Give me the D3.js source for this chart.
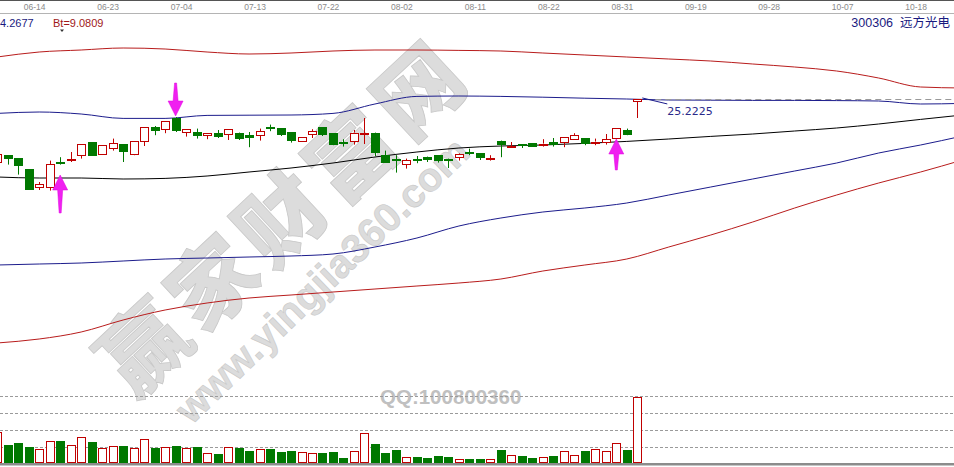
<!DOCTYPE html>
<html><head><meta charset="utf-8">
<script src="https://cdn.jsdelivr.net/npm/d3@7"></script>
<style>html,body{margin:0;padding:0;background:#fff;overflow:hidden}</style>
</head><body><svg id="c" width="954" height="467"></svg>
<script>
// ---- data ----
const dateLabels = ["06-14","06-23","07-04","07-13","07-22","08-02","08-11","08-22","08-31","09-19","09-28","10-07","10-18"];
const dateIdx = [3,10,17,24,31,38,45,52,59,66,73,80,87];

const opens  = [22.07,22.41,22.26,21.71,20.84,20.80,22.07,22.18,22.44,23.07,22.44,22.77,22.97,22.47,23.11,23.81,23.71,24.27,23.54,23.57,23.44,23.54,23.44,23.54,23.41,23.41,23.84,23.77,23.57,23.14,23.44,23.82,23.51,23.07,23.14,23.47,23.54,22.44,22.24,21.97,22.24,22.34,22.41,22.24,22.34,22.56,22.51,22.22,23.14,22.82,22.96,23.01,22.96,23.07,23.04,23.21,23.27,23.06,23.07,23.27,23.67,25.10];
const highs  = [22.50,22.41,22.26,21.71,21.07,22.14,22.31,22.57,22.97,23.07,22.91,23.24,22.97,23.14,23.81,23.87,24.11,24.31,23.71,23.74,23.54,23.67,23.71,23.54,23.57,23.74,23.94,23.77,23.57,23.34,23.71,23.82,23.51,23.21,23.67,24.27,23.54,22.64,22.41,22.24,22.37,22.34,22.41,22.24,22.50,22.74,22.51,22.41,23.14,23.07,22.96,23.01,23.21,23.27,23.31,23.51,23.27,23.24,23.47,23.77,23.74,25.2225];
const lows   = [22.00,21.94,21.44,20.70,20.67,20.64,21.94,22.07,22.24,22.44,22.44,22.64,22.07,22.41,22.87,23.41,23.51,23.57,23.34,23.24,23.21,23.27,23.17,23.17,22.81,23.14,23.61,23.37,23.04,23.14,23.27,23.37,22.91,22.84,22.94,22.97,22.37,22.05,21.54,21.74,22.01,22.07,22.04,21.77,22.14,22.41,22.17,22.14,22.31,22.77,22.77,22.87,22.84,22.84,22.81,23.21,22.91,22.91,22.94,23.27,23.41,24.27];
const closes = [22.47,22.24,21.89,20.71,20.97,21.97,22.02,22.22,22.97,22.44,22.91,23.01,22.61,23.14,23.81,23.64,24.11,23.67,23.71,23.41,23.54,23.41,23.71,23.31,23.31,23.61,23.77,23.47,23.17,23.34,23.61,23.47,22.97,23.01,23.54,23.52,22.57,22.07,22.17,22.17,22.17,22.24,22.17,22.17,22.47,22.52,22.31,22.25,23.01,22.86,22.92,22.87,22.99,22.97,23.31,23.41,23.04,23.09,23.21,23.77,23.47,25.2225];
const volumes = [31.3,18.3,20.3,16.3,14.3,21.7,22.3,17.7,25.7,21,15,17,17,15,23.7,15,15.7,17,15,15.7,9.7,9,15.7,15,12.3,13.7,14.3,11,12.3,11,9.7,10,11,5,11.7,29.7,19,10.3,13,5.7,5.7,5,7,5.7,4.3,3.7,3.7,4.3,13,8.3,7,5,5.7,7,11.7,8.3,11.7,13.7,11.7,19.7,13,65.7];
const volTicks = [16,33,50,67];

const bandIdx   = [0,4,8,12,16,20,24,28,32,36,40,44,48,52,56,60,64,68,72,76,80,84,88,92];
const upperRed  = [27.32,27.57,27.67,27.77,27.72,27.57,27.47,27.52,27.62,27.67,27.67,27.65,27.62,27.52,27.42,27.32,27.22,27.12,26.97,26.82,26.62,26.27,25.82,25.77];
const upperBlue = [24.50,24.57,24.47,24.25,24.25,24.40,24.41,24.42,24.50,24.97,25.35,25.37,25.35,25.31,25.26,25.22,25.17,25.16,25.15,25.15,25.14,25.12,24.97,25.00];
const midBlack  = [21.32,21.27,21.27,21.22,21.25,21.37,21.57,21.77,22.02,22.32,22.57,22.77,22.87,22.92,23.00,23.10,23.22,23.35,23.47,23.62,23.77,23.97,24.20,24.42];
const lowerBlue = [16.92,16.97,17.02,17.12,17.22,17.27,17.32,17.37,17.47,17.82,18.27,18.87,19.27,19.57,19.77,20.02,20.42,20.82,21.22,21.62,22.02,22.52,22.92,23.37];
const lowerRed  = [13.02,13.22,13.57,14.17,14.67,15.02,15.27,15.42,15.57,15.72,15.87,16.02,16.22,16.62,16.92,17.22,17.82,18.42,19.07,19.77,20.42,21.02,21.57,22.17];

const arrowIdx   = [6,17,59];
const arrowPrice = [21.42,24.37,23.22];
const arrowDir   = ["up","down","up"];

const infoLeft = "4.2677";
const infoBt = "Bt=9.0809";
const stockName = "300306  远方光电";
const highText = "25.2225";

// ---- scales ----
const W = 954, H = 467;
const svg = d3.select("#c");
const x = d3.scaleLinear().domain([0, 61]).range([-2.8, 637.3]);
const y = d3.scaleLinear().domain([11.17, 30.17]).range([380, 0]);
const yv = d3.scaleLinear().domain([0, 67]).range([463, 396]);

const RED = "#c00000", GREEN = "#007800";

// ---- watermark ----
const wm = svg.append("g").attr("class","wm");
wm.append("text").text("赢家财富网")
  .attr("transform","translate(280,212) rotate(-43)")
  .attr("text-anchor","middle").attr("dominant-baseline","central")
  .attr("font-family","Noto Sans CJK SC").attr("font-weight","900")
  .attr("font-size",86).attr("letter-spacing",8)
  .attr("fill","#dcdcdc").attr("stroke","#c8c8c8").attr("stroke-width",0.8);
wm.append("text").text("www.yingjia360.com")
  .attr("transform","translate(322,280) rotate(-44)")
  .attr("text-anchor","middle").attr("dominant-baseline","central")
  .attr("font-family","Liberation Sans, Arial").attr("font-weight","bold")
  .attr("font-size",40)
  .attr("fill","#dcdcdc").attr("stroke","#c8c8c8").attr("stroke-width",0.6);
wm.append("text").text("QQ:100800360")
  .attr("x",380).attr("y",404)
  .attr("font-family","Liberation Sans, Arial").attr("font-weight","bold")
  .attr("font-size",20.5).attr("fill","#c0c0c0");

// ---- top axis ----
svg.append("line").attr("x1",0).attr("x2",W).attr("y1",0.5).attr("y2",0.5).attr("stroke","#555");
svg.append("line").attr("x1",0).attr("x2",W).attr("y1",13.5).attr("y2",13.5).attr("stroke","#b4b4b4");
svg.append("g").selectAll("text").data(dateLabels).join("text")
  .attr("x",(d,i)=>x(dateIdx[i])+6).attr("y",10)
  .attr("text-anchor","middle")
  .attr("font-family","Liberation Sans, Arial").attr("font-size",8.5)
  .attr("fill","#8a8a8a").text(d=>d);

svg.append("text").attr("x",0).attr("y",27).text(infoLeft)
  .attr("font-family","Liberation Sans, Arial").attr("font-size",11).attr("fill","#1a1a80");
svg.append("text").attr("x",53).attr("y",27).text(infoBt)
  .attr("font-family","Liberation Sans, Arial").attr("font-size",11).attr("fill","#a01818");
svg.append("path").attr("d","M60,29.5 L64,29.5 L62,32 Z").attr("fill","#333");
svg.append("text").attr("x",950).attr("y",27).attr("text-anchor","end").text(stockName)
  .attr("font-family","Liberation Sans, Noto Sans CJK SC").attr("font-size",12.5).attr("fill","#1a1a80")
  .style("white-space","pre").attr("xml:space","preserve");

// ---- volume grid ----
svg.append("g").selectAll("line").data(volTicks).join("line")
  .attr("x1",0).attr("x2",W)
  .attr("y1",d=>Math.round(yv(d))+0.5).attr("y2",d=>Math.round(yv(d))+0.5)
  .attr("stroke","#9a9a9a").attr("stroke-dasharray","3,2");
svg.append("rect").attr("x",0).attr("y",463).attr("width",W).attr("height",2.5).attr("fill","#8c8c8c");

// ---- bands ----
const bandLine = d3.line().x((d,i)=>x(bandIdx[i])).y(d=>y(d)).curve(d3.curveMonotoneX);
const bands = [[upperRed,"#b81c1c"],[upperBlue,"#1c1c8c"],[midBlack,"#000"],[lowerBlue,"#1c1c8c"],[lowerRed,"#b81c1c"]];
svg.append("g").selectAll("path").data(bands).join("path")
  .attr("d",d=>bandLine(d[0])).attr("fill","none").attr("stroke",d=>d[1]).attr("stroke-width",1);

// high price dashed line and label
const hiI = highs.indexOf(d3.max(highs));
svg.append("line").attr("x1",x(hiI)+18).attr("x2",W)
  .attr("y1",Math.round(y(highs[hiI]))+0.5).attr("y2",Math.round(y(highs[hiI]))+0.5)
  .attr("stroke","#999").attr("stroke-dasharray","6,4");
svg.append("line").attr("x1",x(hiI)+5).attr("y1",y(highs[hiI])-1)
  .attr("x2",x(hiI)+30).attr("y2",y(highs[hiI])+5).attr("stroke","#1c1c8c");
svg.append("text").attr("x",x(hiI)+30).attr("y",y(highs[hiI])+16).text(highText)
  .attr("font-family","DejaVu Sans, Verdana").attr("font-size",11).attr("fill","#2a2a8a");

// ---- volume bars ----
const bw = 8;
const idx = d3.range(opens.length);
svg.append("g").selectAll("rect").data(idx).join("rect")
  .attr("x",i=>Math.round(x(i)-bw/2)+0.5)
  .attr("y",i=>Math.round(yv(volumes[i]))+0.5)
  .attr("width",bw)
  .attr("height",i=>Math.max(1,462.5-Math.round(yv(volumes[i]))-0.5))
  .attr("fill",i=>closes[i]>=opens[i]?"#fff":GREEN)
  .attr("stroke",i=>closes[i]>=opens[i]?RED:GREEN);

// ---- candles ----
const cg = svg.append("g");
idx.forEach(i=>{
  const up = closes[i]>=opens[i];
  const col = up?RED:GREEN;
  const cx = Math.round(x(i))+0.5;
  const top = y(Math.max(opens[i],closes[i])), bot = y(Math.min(opens[i],closes[i]));
  if(up){
    cg.append("line").attr("x1",cx).attr("x2",cx).attr("y1",y(highs[i])).attr("y2",top).attr("stroke",col);
    cg.append("line").attr("x1",cx).attr("x2",cx).attr("y1",bot).attr("y2",y(lows[i])).attr("stroke",col);
  } else {
    cg.append("line").attr("x1",cx).attr("x2",cx).attr("y1",y(highs[i])).attr("y2",y(lows[i])).attr("stroke",col);
  }
  const h = Math.max(1, bot-top);
  cg.append("rect").attr("x",cx-4).attr("y",Math.round(top)+0.5).attr("width",8).attr("height",Math.max(1,Math.round(h)))
    .attr("fill",up?"#fff":col).attr("stroke",col);
});

// ---- arrows ----
const ag = svg.append("g");
arrowIdx.forEach((ai,k)=>{
  const tx = x(ai), ty = y(arrowPrice[k]);
  const len = k===2?31:(k===1?33:38);
  const s = arrowDir[k]==="up"?1:-1;
  const p = d3.path();
  p.moveTo(tx,ty);
  p.lineTo(tx+7.5,ty+s*15);
  p.lineTo(tx+2.5,ty+s*15);
  p.lineTo(tx+1,ty+s*len);
  p.lineTo(tx-1,ty+s*len);
  p.lineTo(tx-2.5,ty+s*15);
  p.lineTo(tx-7.5,ty+s*15);
  p.closePath();
  ag.append("path").attr("d",p.toString()).attr("fill","#f020f0").attr("stroke","#e000e0").attr("stroke-width",0.5);
});
</script>
</body></html>
